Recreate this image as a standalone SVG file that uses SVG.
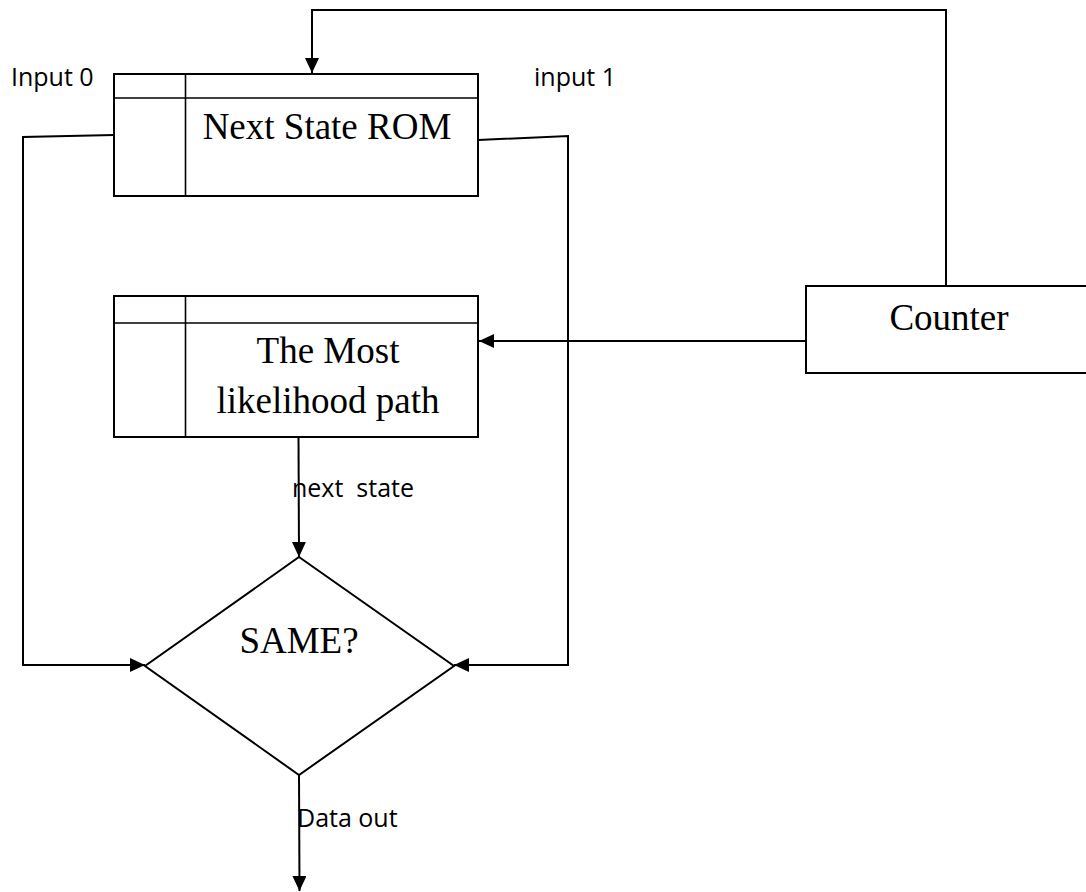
<svg xmlns="http://www.w3.org/2000/svg" width="1086" height="892" viewBox="0 0 1086 892">
<style>
.box{fill:#fff;stroke:#000;stroke-width:2}
.thin{stroke:#000;stroke-width:1.6;fill:none}
.serif{font-family:"Liberation Serif","Times New Roman",serif;font-size:37px;fill:#000;text-anchor:middle}
.lbl{font-family:"Open Sans","DejaVu Sans",sans-serif;font-size:25px;fill:#000}
.conn{fill:none;stroke:#000;stroke-width:2}
</style>
<defs>
<marker id="ah" markerUnits="userSpaceOnUse" markerWidth="16" markerHeight="15" refX="15" refY="7" orient="auto">
<path d="M0,0 L15,7 L0,14 z" fill="#000"/>
</marker>
</defs>
<rect width="1086" height="892" fill="#fff"/>
<g id="rom">
<rect class="box" x="114" y="74" width="364" height="122"/>
<line class="thin" x1="114" y1="98" x2="478" y2="98"/>
<line class="thin" x1="185.5" y1="74" x2="185.5" y2="196"/>
<text class="serif" x="327" y="139">Next State ROM</text>
</g>
<g id="mlp">
<rect class="box" x="114" y="296" width="364" height="141"/>
<line class="thin" x1="114" y1="323" x2="478" y2="323"/>
<line class="thin" x1="185.5" y1="296" x2="185.5" y2="437"/>
<text class="serif" x="328" y="363">The Most</text>
<text class="serif" x="328" y="413">likelihood path</text>
</g>
<g id="counter">
<rect class="box" x="806" y="286" width="290" height="87"/>
<text class="serif" x="949" y="330">Counter</text>
</g>
<g id="same">
<polygon class="box" points="299,557 454,666 299,775 145,666"/>
<text class="serif" x="299" y="653">SAME?</text>
</g>
<g id="labels">
<text class="lbl" x="11" y="86">Input 0</text>
<text class="lbl" x="534" y="86">input 1</text>
<text class="lbl" x="292" y="497" xml:space="preserve">next  state</text>
<text class="lbl" x="297" y="827">Data out</text>
</g>
<g id="connectors">
<polyline class="conn" points="946,286 946,10 312,10 312,73" marker-end="url(#ah)"/>
<line class="conn" x1="806" y1="341" x2="479" y2="341" marker-end="url(#ah)"/>
<polyline class="conn" points="114,135 23,137 23,665 145,665" marker-end="url(#ah)"/>
<polyline class="conn" points="478,140 568,136 568,665 454,665" marker-end="url(#ah)"/>
<line class="conn" x1="298.5" y1="437" x2="299" y2="557" marker-end="url(#ah)"/>
<line class="conn" x1="299" y1="775" x2="299.5" y2="891" marker-end="url(#ah)"/>
</g>
</svg>
